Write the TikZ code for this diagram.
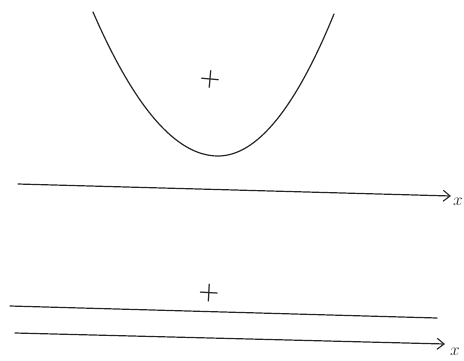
\documentclass[tikz,border=0pt]{standalone}
\usetikzlibrary{arrows.meta,positioning}

\begin{document}
\begin{tikzpicture}[
  x=1pt, y=-1pt,
  curve/.style={line width=1.2pt, draw=black!85, line cap=round},
  axis/.style={-{Straight Barb[length=7pt,width=11pt,line width=1.1pt]}, line width=1.2pt, draw=black!85, line cap=round},
  cross/.style={font=\fontsize{24}{24}\selectfont\bfseries, inner sep=0pt, text=black!85},
  axlabel/.style={font=\fontsize{16}{16}\selectfont, inner sep=0pt, text=black!85}
]
\useasboundingbox (0,0) rectangle (464,360);

% upper picture
\coordinate (parLeft) at (93,12);
\coordinate (parVertex) at (218,156);
\coordinate (parRight) at (334,14);
\draw[curve] (parLeft) .. controls (134.7,108) and (176.3,156) .. (parVertex)
  .. controls (256.7,156) and (295.3,108.7) .. (parRight);
\node[cross, rotate=-5] (focusTop) at (210,79) {+};

\coordinate (axisTopStart) at (18,184);
\coordinate (axisTopEnd) at (451,196);
\draw[axis] (axisTopStart) -- (axisTopEnd);
\node[axlabel, anchor=west] (labelTop) at (453,202) {$x$};

% lower picture
\coordinate (lineStart) at (10,306);
\coordinate (lineEnd) at (437,318);
\draw[curve] (lineStart) -- (lineEnd);
\node[cross, rotate=-3] (focusBottom) at (209,293) {+};

\coordinate (axisBotStart) at (15,333);
\coordinate (axisBotEnd) at (445,344);
\draw[axis] (axisBotStart) -- (axisBotEnd);
\node[axlabel, anchor=west] (labelBot) at (450,352) {$x$};

\end{tikzpicture}
\end{document}
